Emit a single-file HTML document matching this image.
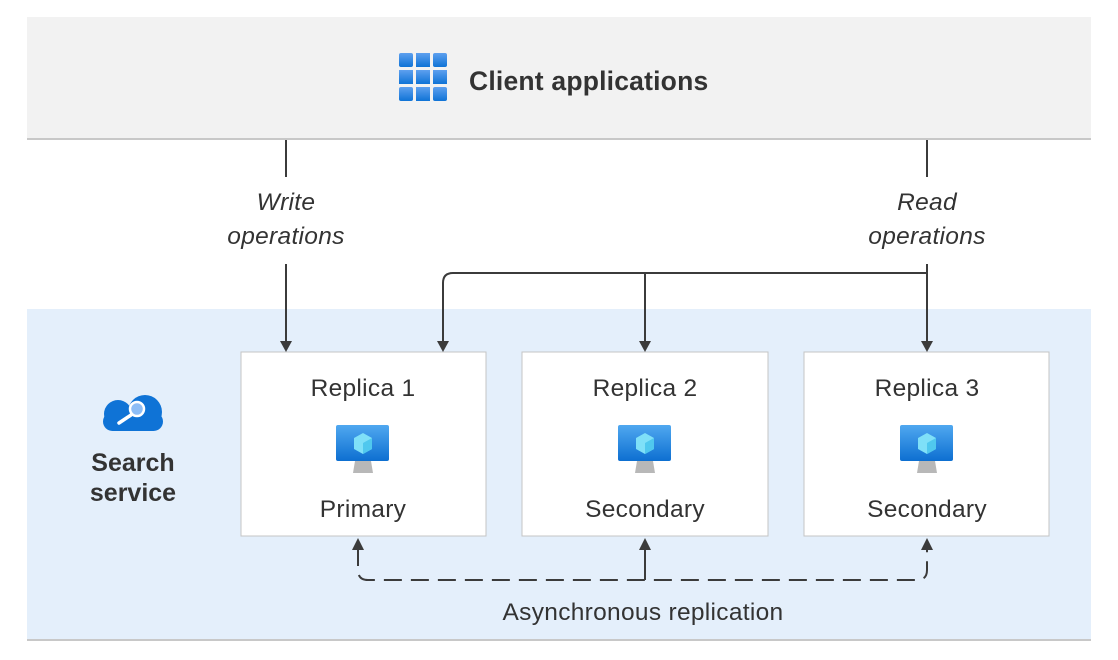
<!DOCTYPE html>
<html><head><style>body{margin:0;background:#fff}svg{display:block}</style></head><body>
<svg width="1118" height="660" xmlns="http://www.w3.org/2000/svg" font-family="Liberation Sans, sans-serif">
<defs>
<linearGradient id="b" x1="0" y1="0" x2="0" y2="1"><stop offset="0" stop-color="#5ea0ef"/><stop offset="1" stop-color="#0f73d6"/></linearGradient>
<linearGradient id="c" x1="0" y1="0" x2="0" y2="1" gradientUnits="userSpaceOnUse" y1="395" y2="432"><stop offset="0" stop-color="#5ea0ef"/><stop offset="1" stop-color="#0f73d6"/></linearGradient>
<linearGradient id="m" x1="0" y1="0" x2="0" y2="1"><stop offset="0" stop-color="#50a8f0"/><stop offset="1" stop-color="#0d6fd1"/></linearGradient>
<g id="pc"><rect x="-27" y="-24" width="53" height="36" rx="2" fill="url(#m)"/><path d="M-8,12 L8,12 L10,24 L-10,24 z" fill="#b8b8b8"/><path d="M0,-16 L9,-11 L9,0 L0,5 L-9,0 L-9,-11 z" fill="#7fe0f8"/><path d="M0,-6 L9,-11 L9,0 L0,5 z" fill="#50c8ee"/></g>
</defs>
<rect x="27" y="17" width="1064" height="122" fill="#f2f2f2"/>
<line x1="27" y1="139" x2="1091" y2="139" stroke="#c8c8c8" stroke-width="2"/>
<g fill="url(#b)">
<rect x="399" y="53" width="14" height="14" rx="2"/><rect x="416" y="53" width="14" height="14"/><rect x="433" y="53" width="14" height="14" rx="2"/>
<rect x="399" y="70" width="14" height="14"/><rect x="416" y="70" width="14" height="14"/><rect x="433" y="70" width="14" height="14"/>
<rect x="399" y="87" width="14" height="14" rx="2"/><rect x="416" y="87" width="14" height="14"/><rect x="433" y="87" width="14" height="14" rx="2"/>
</g>
<text x="469" y="90" font-size="26.5" font-weight="bold" fill="#333" letter-spacing="0.2">Client applications</text>
<rect x="27" y="309" width="1064" height="331" fill="#e4effb"/>
<line x1="27" y1="640" x2="1091" y2="640" stroke="#c8c8c8" stroke-width="2"/>
<g fill="url(#c)"><circle cx="118" cy="414" r="14"/><circle cx="145" cy="412" r="17"/><rect x="103" y="412" width="60" height="19" rx="9.5"/></g>
<circle cx="137" cy="409" r="7" fill="#8dbdf6" stroke="#fff" stroke-width="2.5"/><line x1="131" y1="415" x2="119" y2="423" stroke="#fff" stroke-width="3.5" stroke-linecap="round"/>
<text x="133" y="471" font-size="25" font-weight="bold" fill="#333" text-anchor="middle">Search</text>
<text x="133" y="501" font-size="25" font-weight="bold" fill="#333" text-anchor="middle">service</text>
<g stroke="#c4c4c4" fill="#fff"><rect x="241" y="352" width="245" height="184"/><rect x="522" y="352" width="246" height="184"/><rect x="804" y="352" width="245" height="184"/></g>
<g font-size="24.5" fill="#333" text-anchor="middle" letter-spacing="0.3">
<text x="363" y="396">Replica 1</text><text x="645" y="396">Replica 2</text><text x="927" y="396">Replica 3</text>
<text x="363" y="517">Primary</text><text x="645" y="517">Secondary</text><text x="927" y="517">Secondary</text>
<text x="643" y="620">Asynchronous replication</text>
</g>
<use href="#pc" x="363" y="449"/><use href="#pc" x="645" y="449"/><use href="#pc" x="927" y="449"/>
<g font-size="24.5" font-style="italic" fill="#333" text-anchor="middle" letter-spacing="0.3">
<text x="286" y="210">Write</text><text x="286" y="244">operations</text>
<text x="927" y="210">Read</text><text x="927" y="244">operations</text>
</g>
<g stroke="#3b3b3b" stroke-width="2" fill="none">
<line x1="286" y1="140" x2="286" y2="177"/>
<line x1="927" y1="140" x2="927" y2="177"/>
<line x1="286" y1="264" x2="286" y2="343"/>
<line x1="927" y1="264" x2="927" y2="343"/>
<path d="M927,273 L453,273 Q443,273 443,283 L443,343"/>
<line x1="645" y1="273" x2="645" y2="343"/>
<path d="M358,548 L358,570 Q358,580 368,580 L917,580 Q927,580 927,570 L927,548" stroke-dasharray="18,9"/>
<line x1="645" y1="548" x2="645" y2="580"/>
</g>
<g fill="#3b3b3b">
<path d="M280,341 L292,341 L286,352 z"/><path d="M437,341 L449,341 L443,352 z"/><path d="M639,341 L651,341 L645,352 z"/><path d="M921,341 L933,341 L927,352 z"/>
<path d="M352,550 L364,550 L358,538 z"/><path d="M639,550 L651,550 L645,538 z"/><path d="M921,550 L933,550 L927,538 z"/>
</g>
</svg>
</body></html>
